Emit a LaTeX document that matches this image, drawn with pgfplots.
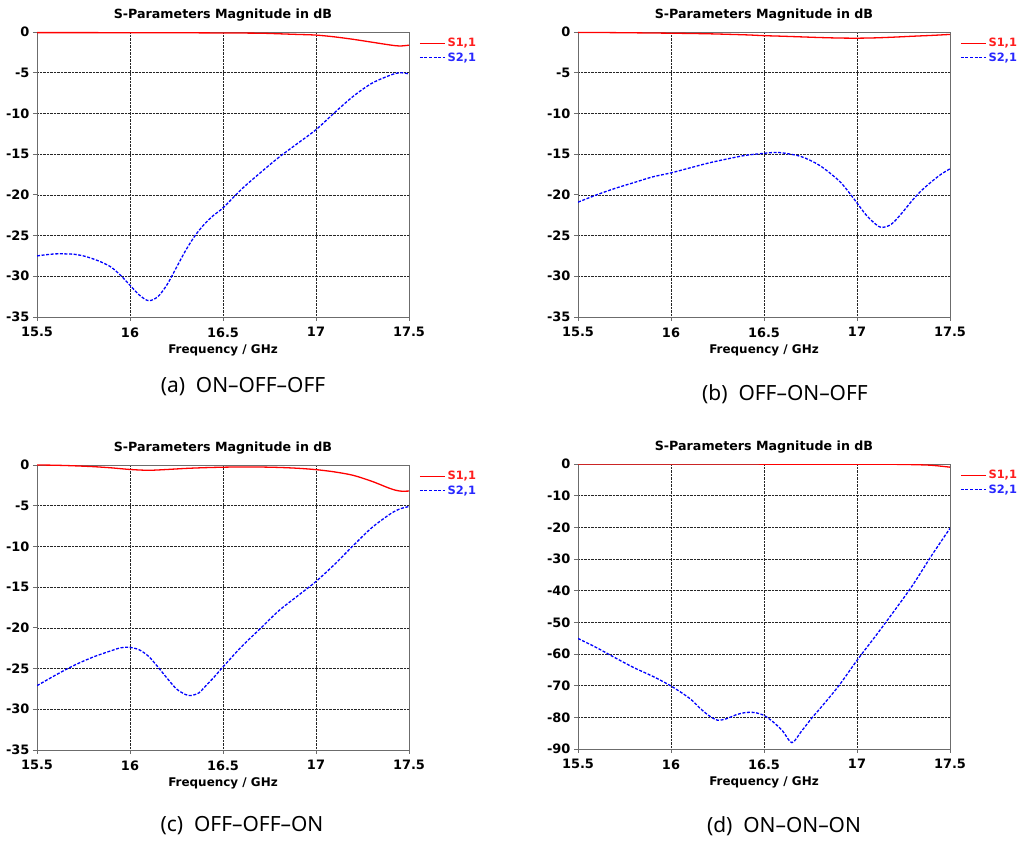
\documentclass[border=0pt]{standalone}
\usepackage{fontspec}
\setmainfont{DejaVu Sans}[BoldFont={DejaVu Sans Bold}]
\newfontfamily\chartfont{DejaVu Sans Bold}
\newfontfamily\capfont{Noto Sans}
\usepackage{pgfplots}
\pgfplotsset{compat=1.18}
\definecolor{sred}{RGB}{255,0,0}
\definecolor{sblue}{RGB}{0,0,255}
\definecolor{lred}{RGB}{255,30,30}
\definecolor{lblue}{RGB}{40,40,255}
\newcommand\cf{\chartfont\fontsize{13}{15}\selectfont}
\pgfplotsset{
 sp/.style={
  scale only axis, width=372bp, height=285bp,
  xmin=15.5, xmax=17.5, xtick={15.5,16,16.5,17,17.5},
  grid=major, grid style={black!85, densely dotted, line width=0.6bp},
  axis line style={draw=gray!85!black, line width=0.8bp},
  tick align=outside, major tick length=4bp,
  tick style={gray!85!black, line width=0.8bp},
  xtick pos=left, ytick pos=left,
  /pgf/number format/assume math mode=true,
  ticklabel style={font=\cf},
  xticklabel style={yshift=-3bp},
  title={S-Parameters Magnitude in dB},
  title style={at={(axis description cs:0.5,1)}, anchor=base, yshift=8bp, inner sep=0pt, font=\chartfont\fontsize{12.7}{15}\selectfont},
  xlabel={Frequency / GHz},
  xlabel style={at={(axis description cs:0.5,0)}, anchor=base, yshift=-37bp, inner sep=0pt, font=\chartfont\fontsize{12}{15}\selectfont},
  legend style={at={(axis description cs:1,1)}, anchor=north west, xshift=10bp, yshift=-4bp,
    draw=none, fill=none, inner sep=0pt, row sep=0.5bp,
    font=\chartfont\fontsize{11.5}{12}\selectfont,
    nodes={inner sep=2bp}},
  legend cell align=left,
  legend image code/.code={\draw[#1] (0bp,0bp) -- (25bp,0bp);},
 },
 s11/.style={sred, line width=1.3bp, smooth, no marks, solid},
 s21/.style={sblue, line width=1.3bp, smooth, no marks, dash pattern=on 3bp off 1.6bp},
}
\begin{document}
\begin{tikzpicture}
\path[use as bounding box] (0,0) rectangle (1021bp,841bp);

% (a)
\begin{axis}[sp, at={(37bp,524bp)}, anchor=south west, ymin=-35, ymax=0, ytick={-35,-30,...,0}]
\addplot[s11] coordinates {(15.5,-0.08) (15.8,-0.08) (16.0,-0.09) (16.3,-0.1) (16.5,-0.12) (16.7,-0.15) (16.8,-0.22) (16.9,-0.3) (17.0,-0.38) (17.1,-0.6) (17.2,-0.9) (17.3,-1.25) (17.4,-1.6) (17.45,-1.72) (17.5,-1.62)};
\addlegendentry{\textcolor{lred}{S1,1}}
\addplot[s21] coordinates {(15.5,-27.5) (15.55,-27.35) (15.6,-27.25) (15.65,-27.25) (15.7,-27.3) (15.75,-27.5) (15.8,-27.85) (15.85,-28.3) (15.9,-28.9) (15.95,-29.9) (16.0,-31.1) (16.05,-32.3) (16.1,-33.0) (16.15,-32.5) (16.2,-31.0) (16.25,-28.9) (16.3,-26.8) (16.35,-25.0) (16.4,-23.6) (16.45,-22.5) (16.5,-21.6) (16.6,-19.3) (16.7,-17.3) (16.8,-15.4) (16.9,-13.7) (17.0,-12.0) (17.1,-9.9) (17.2,-7.9) (17.3,-6.3) (17.4,-5.3) (17.45,-5.0) (17.5,-5.15)};
\addlegendentry{\textcolor{lblue}{S2,1}}
\end{axis}

% (b)
\begin{axis}[sp, at={(578bp,524bp)}, anchor=south west, ymin=-35, ymax=0, ytick={-35,-30,...,0}]
\addplot[s11] coordinates {(15.5,-0.05) (15.7,-0.08) (16.0,-0.15) (16.2,-0.22) (16.4,-0.35) (16.5,-0.45) (16.6,-0.52) (16.7,-0.6) (16.8,-0.68) (16.9,-0.74) (17.0,-0.76) (17.1,-0.72) (17.2,-0.63) (17.3,-0.52) (17.4,-0.42) (17.5,-0.3)};
\addlegendentry{\textcolor{lred}{S1,1}}
\addplot[s21] coordinates {(15.5,-20.9) (15.6,-20.0) (15.7,-19.2) (15.8,-18.5) (15.9,-17.8) (16.0,-17.3) (16.1,-16.7) (16.2,-16.1) (16.3,-15.6) (16.4,-15.15) (16.5,-14.9) (16.55,-14.8) (16.6,-14.85) (16.7,-15.3) (16.8,-16.4) (16.9,-18.2) (16.95,-19.5) (17.0,-21.0) (17.05,-22.5) (17.1,-23.6) (17.13,-24.0) (17.17,-23.8) (17.2,-23.3) (17.25,-22.0) (17.3,-20.6) (17.35,-19.4) (17.4,-18.4) (17.45,-17.5) (17.5,-16.8)};
\addlegendentry{\textcolor{lblue}{S2,1}}
\end{axis}

% (c)
\begin{axis}[sp, at={(37bp,91bp)}, anchor=south west, ymin=-35, ymax=0, ytick={-35,-30,...,0}]
\addplot[s11] coordinates {(15.5,0) (15.6,-0.03) (15.7,-0.1) (15.8,-0.2) (15.9,-0.35) (16.0,-0.55) (16.1,-0.65) (16.2,-0.55) (16.3,-0.42) (16.4,-0.33) (16.5,-0.27) (16.6,-0.24) (16.7,-0.25) (16.8,-0.3) (16.9,-0.4) (17.0,-0.57) (17.1,-0.85) (17.2,-1.27) (17.3,-2.0) (17.4,-2.9) (17.45,-3.2) (17.5,-3.2)};
\addlegendentry{\textcolor{lred}{S1,1}}
\addplot[s21] coordinates {(15.5,-27.1) (15.6,-25.8) (15.7,-24.6) (15.8,-23.6) (15.9,-22.8) (15.95,-22.45) (16.0,-22.4) (16.05,-22.7) (16.1,-23.5) (16.15,-24.8) (16.2,-26.2) (16.25,-27.5) (16.3,-28.2) (16.33,-28.3) (16.37,-28.0) (16.4,-27.3) (16.45,-26.1) (16.5,-24.8) (16.6,-22.3) (16.7,-20.1) (16.8,-17.9) (16.9,-16.1) (17.0,-14.3) (17.1,-12.2) (17.2,-9.9) (17.3,-7.7) (17.4,-6.0) (17.45,-5.4) (17.5,-5.1)};
\addlegendentry{\textcolor{lblue}{S2,1}}
\end{axis}

% (d)
\begin{axis}[sp, at={(578bp,92bp)}, anchor=south west, ymin=-90, ymax=0, ytick={-90,-80,...,0}]
\addplot[s11] coordinates {(15.5,-0.02) (16.0,-0.02) (16.5,-0.03) (17.0,-0.05) (17.2,-0.1) (17.3,-0.2) (17.4,-0.4) (17.5,-1.0)};
\addlegendentry{\textcolor{lred}{S1,1}}
\addplot[s21] coordinates {(15.5,-55.1) (15.6,-58.0) (15.7,-61.2) (15.8,-64.3) (15.9,-67.0) (16.0,-70.1) (16.1,-74.0) (16.15,-76.8) (16.2,-79.3) (16.25,-80.9) (16.3,-80.4) (16.35,-79.2) (16.4,-78.5) (16.45,-78.5) (16.5,-79.4) (16.55,-81.5) (16.6,-84.3) (16.65,-88.0) (16.7,-84.5) (16.76,-80.0) (16.8,-77.3) (16.9,-70.2) (17.0,-62.0) (17.1,-54.3) (17.2,-46.4) (17.3,-38.2) (17.4,-29.0) (17.5,-20.3)};
\addlegendentry{\textcolor{lblue}{S2,1}}
\end{axis}

\node[font=\capfont\fontsize{21}{24}\selectfont] at (243bp,454bp) {(a)\ \ ON–OFF–OFF};
\node[font=\capfont\fontsize{21}{24}\selectfont] at (785bp,447bp) {(b)\ \ OFF–ON–OFF};
\node[font=\capfont\fontsize{21}{24}\selectfont] at (242bp,15bp) {(c)\ \ OFF–OFF–ON};
\node[font=\capfont\fontsize{21}{24}\selectfont] at (784bp,15bp) {(d)\ \ ON–ON–ON};
\end{tikzpicture}
\end{document}
